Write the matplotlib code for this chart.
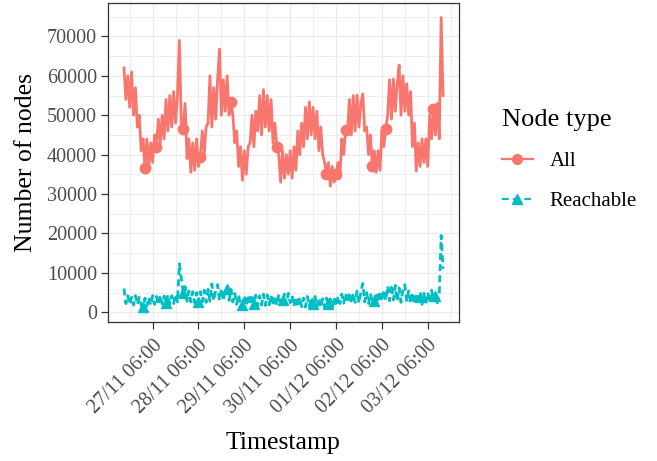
import matplotlib
matplotlib.use("Agg")
import matplotlib.pyplot as plt
import matplotlib.dates as mdates
from matplotlib.lines import Line2D
import pandas as pd
import numpy as np

plt.rcParams['font.family'] = ['Liberation Serif', 'DejaVu Serif']

start_time = "2017-11-26 15:00"
n_hours = 168

all_nodes_k = [
    62, 54, 60, 52, 61, 50, 57, 47, 50, 41, 44, 36.5, 44, 37, 43, 38, 45, 42, 49, 43,
    50, 44, 54, 46, 55, 47, 56, 48, 55, 69, 48, 46.6, 53, 39, 44, 35.5, 43, 36, 44, 37,
    39.5, 46, 40, 47, 48, 60, 47, 57, 49, 59, 66.8, 50, 59, 51, 60, 50, 53.4, 50, 43, 46,
    37, 42, 33.5, 41, 35, 42, 43, 50, 42, 51, 46, 55, 45, 56.5, 47, 55, 46, 54, 43, 48,
    42, 40, 33, 41, 34, 40, 35, 41, 34, 42, 36, 46, 40, 48, 42, 52, 44, 53.4, 45, 52,
    44, 51, 41, 47, 40, 38, 35, 38, 32, 37, 33, 35, 38, 34, 44, 40, 46.3, 46, 54, 45,
    55, 46, 55.1, 47, 53, 55.4, 46, 47, 40, 45, 37, 41, 35.5, 41, 36, 46, 42, 46.6, 50, 59,
    49, 59.2, 51, 58, 62.7, 50, 60, 51, 58, 50, 56, 42, 48, 35.8, 43, 37, 44, 38, 44, 37,
    50, 44, 51.6, 45, 53, 44, 74.8, 55,
]

reachable_k = [
    6.0, 2.2, 4.2, 2.0, 3.8, 1.8, 4.2, 2.0, 3.8, 1.8, 1.3, 3.6, 1.6, 3.8, 1.8, 4.2, 2.0, 4.0, 1.9, 4.3,
    2.1, 4.1, 2.3, 4.4, 2.0, 4.2, 2.2, 4.5, 2.6, 12.3, 8.5, 5.0, 6.5, 2.8, 5.4, 2.6, 5.2, 2.4, 5.0, 2.5,
    5.2, 2.6, 5.6, 2.5, 5.8, 2.8, 7.2, 2.9, 5.6, 7.0, 3.0, 6.0, 2.9, 5.6, 6.0, 3.0, 5.8, 2.6, 4.8, 2.0,
    4.4, 1.8, 1.8, 4.2, 1.6, 4.4, 1.8, 4.5, 2.2, 4.3, 1.6, 4.2, 1.8, 4.6, 1.7, 4.4, 1.9, 4.3, 1.7, 4.2,
    1.8, 4.5, 2.0, 3.0, 4.6, 2.0, 4.8, 2.4, 4.2, 1.5, 3.9, 1.3, 3.8, 1.4, 3.6, 1.3, 4.0, 1.5, 3.8, 2.2,
    4.0, 1.4, 3.6, 1.2, 3.4, 1.3, 3.6, 2.0, 3.4, 1.3, 3.8, 1.5, 4.0, 2.2, 4.6, 2.3, 4.8, 2.4, 5.0, 2.2,
    4.8, 2.5, 5.4, 2.3, 5.2, 7.3, 2.6, 5.0, 2.2, 4.8, 2.4, 2.8, 5.0, 2.5, 5.4, 2.8, 5.6, 3.0, 6.6, 2.9,
    7.0, 3.1, 6.8, 2.8, 6.2, 2.5, 5.8, 7.0, 2.7, 5.4, 2.2, 5.0, 2.0, 4.8, 2.2, 3.8, 2.0, 4.8, 2.2, 5.0,
    2.4, 5.6, 3.0, 4.2, 2.4, 4.5, 19.5, 11.0,
]

all_marker_idx = [11, 17, 31, 40, 56, 80, 106, 111, 116, 130, 137, 162]
reach_marker_idx = [10, 22, 31, 39, 54, 62, 68, 83, 99, 107, 131, 155, 163]

series_labels = ["All", "Reachable"]
series_colors = ["#F8766D", "#00BFC4"]
y_ticks = [0, 10000, 20000, 30000, 40000, 50000, 60000, 70000]
x_tick_times = ["2017-11-27 06:00", "2017-11-28 06:00", "2017-11-29 06:00", "2017-11-30 06:00",
                "2017-12-01 06:00", "2017-12-02 06:00", "2017-12-03 06:00"]
x_tick_labels = ["27/11 06:00", "28/11 06:00", "29/11 06:00", "30/11 06:00",
                 "01/12 06:00", "02/12 06:00", "03/12 06:00"]

times = pd.date_range(start_time, periods=n_hours, freq="h")
all_vals = np.array(all_nodes_k) * 1000
reach_vals = np.array(reachable_k) * 1000

fig = plt.figure(figsize=(6.57, 4.61), dpi=100)
ax = fig.add_axes([108/657, 1-322/461, (459-108)/657, (322-3)/461])

ax.plot(times, all_vals, color=series_colors[0], lw=2.0, marker='o', markersize=7.5,
        markevery=all_marker_idx, zorder=3)
ax.plot(times, reach_vals, color=series_colors[1], lw=2.0, linestyle=(0, (2.5, 1.5)), marker='^',
        markersize=7.5, markevery=reach_marker_idx, zorder=3)

tnum = mdates.date2num(times)
tr = tnum[-1] - tnum[0]
ax.set_xlim(tnum[0] - 0.05*tr, tnum[-1] + 0.05*tr)
ymin = min(all_vals.min(), reach_vals.min()); ymax = max(all_vals.max(), reach_vals.max())
yr = ymax - ymin
ax.set_ylim(ymin - 0.05*yr, ymax + 0.05*yr)

xt = mdates.date2num(pd.to_datetime(x_tick_times))
ax.set_xticks(xt)
ax.set_xticklabels(x_tick_labels, rotation=45, ha='right', va='top', rotation_mode='anchor')
ax.set_xticks(list(xt - 0.5) + [xt[-1] + 0.5], minor=True)
ax.set_yticks(y_ticks)
ax.set_yticklabels([str(v) for v in y_ticks])
ax.set_yticks([v + 5000 for v in y_ticks], minor=True)

ax.set_facecolor('white')
ax.grid(True, which='major', color='#EBEBEB', lw=0.9, zorder=0)
ax.grid(True, which='minor', color='#EBEBEB', lw=0.6, zorder=0)
ax.set_axisbelow(True)
for s in ax.spines.values():
    s.set_color('#333333'); s.set_linewidth(0.9)

ax.tick_params(axis='both', which='major', direction='out', length=5, width=0.9,
               color='#333333', labelcolor='#4D4D4D', labelsize=14.5, pad=3)
ax.tick_params(axis='x', which='major', pad=5)
ax.tick_params(axis='both', which='minor', length=0)

ax.set_xlabel("Timestamp", fontsize=18.5, labelpad=10)
ax.set_ylabel("Number of nodes", fontsize=18.5, labelpad=7)

handles = [
    Line2D([], [], color=series_colors[0], lw=1.6, marker='o', markersize=7),
    Line2D([], [], color=series_colors[1], lw=1.6, linestyle=(0, (3, 2)), marker='^', markersize=7),
]
leg = fig.legend(handles, series_labels, title="Node type", loc='center left',
                 bbox_to_anchor=(483/657, 1-160/461), frameon=False, fontsize=15,
                 title_fontsize=19, handlelength=1.5, labelspacing=1.0, handletextpad=0.8,
                 alignment='left')

fig.savefig("out.png", dpi=100)
